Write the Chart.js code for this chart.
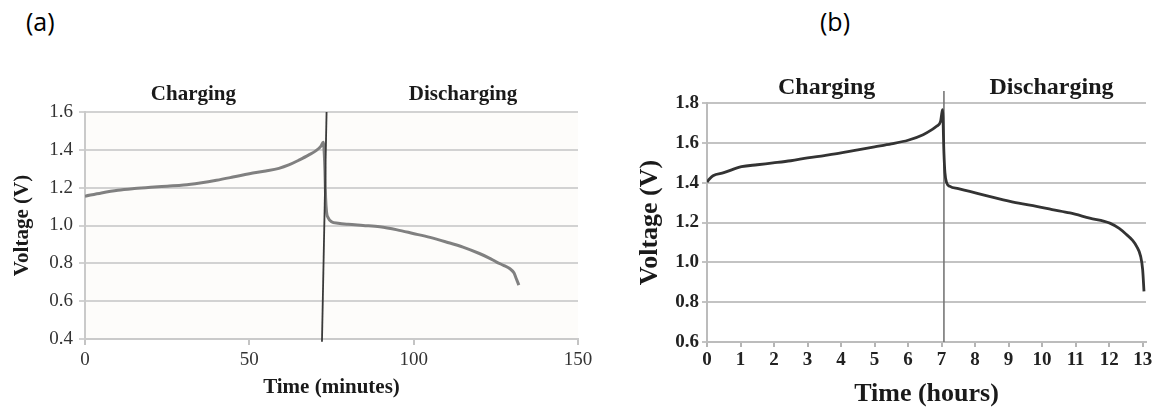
<!DOCTYPE html>
<html>
<head>
<meta charset="utf-8">
<script src="https://cdn.jsdelivr.net/npm/chart.js@4/dist/chart.umd.min.js"></script>
<style>
  body { margin: 0; background: #fff; width: 1156px; height: 411px; position: relative; overflow: hidden; }
  canvas { position: absolute; top: 0; }
  #chartA { left: 0; }
  #chartB { left: 600px; }
  .tag { position: absolute; top: 9px; font-family: "Open Sans", sans-serif; font-size: 25px; line-height: 1; color: #000; }
</style>
</head>
<body>
<div class="tag" style="left:26px">(a)</div>
<div class="tag" style="left:820px">(b)</div>
<canvas id="chartA" width="600" height="411"></canvas>
<canvas id="chartB" width="556" height="411"></canvas>
<script>
// Panel (a): time in minutes, voltage in volts
const timeA = [0, 5, 10, 15, 20, 25, 30, 35, 40, 45, 50, 55, 59, 62, 65, 68, 70.4, 71.8, 72.5,
  72.8, 73.0, 73.2, 73.5, 74.0, 75.0, 77, 80, 84.6, 89.7, 95, 99.8, 105, 109.9, 115, 120,
  123, 125.1, 127.5, 129.2, 130.5, 131.2, 132];
const voltageA = [1.155, 1.172, 1.186, 1.195, 1.202, 1.208, 1.214, 1.225, 1.239, 1.256, 1.274, 1.288, 1.302, 1.32, 1.345, 1.372, 1.397, 1.42, 1.44,
  1.38, 1.29, 1.15, 1.07, 1.04, 1.02, 1.012, 1.006, 1.0, 0.993, 0.977, 0.958, 0.937, 0.913, 0.886, 0.852,
  0.828, 0.808, 0.788, 0.773, 0.75, 0.72, 0.685];
const switchTimeA = [72.1, 73.5];
const switchVoltA = [0.386, 1.6];
const xTicksA = [0, 50, 100, 150];
const yTicksA = [0.4, 0.6, 0.8, 1.0, 1.2, 1.4, 1.6];
const phaseXA = [33, 115];

// Panel (b): time in hours, voltage in volts
const timeB = [0, 0.08, 0.18, 0.5, 1.03, 1.5, 1.97, 2.5, 3.0, 3.5, 4.0, 4.5, 5.0, 5.5, 6.0, 6.45, 6.7, 6.85, 6.97, 7.0, 7.03,
  7.07, 7.1, 7.15, 7.25, 7.5, 7.84, 8.3, 8.84, 9.3, 9.83, 10.3, 10.83, 11.42, 12.02, 12.3, 12.52, 12.7, 12.82, 12.94, 13.0, 13.04];
const voltageB = [1.403, 1.42, 1.435, 1.45, 1.48, 1.49, 1.499, 1.51, 1.524, 1.536, 1.549, 1.565, 1.58, 1.595, 1.613, 1.641, 1.665, 1.683, 1.708, 1.74, 1.766,
  1.55, 1.45, 1.40, 1.381, 1.37, 1.356, 1.336, 1.314, 1.297, 1.281, 1.265, 1.248, 1.222, 1.197, 1.17, 1.139, 1.11, 1.08, 1.03, 0.963, 0.854];
const switchTimeB = [7.07, 7.07];
const switchVoltB = [0.6, 1.86];
const xTicksB = [0, 1, 2, 3, 4, 5, 6, 7, 8, 9, 10, 11, 12, 13];
const yTicksB = [0.6, 0.8, 1.0, 1.2, 1.4, 1.6, 1.8];
const phaseXB = [3.57, 10.28];

const phaseLabels = ['Charging', 'Discharging'];

const SERIF = '"Liberation Serif", "Times New Roman", serif';

const toPoints = (xs, ys) => xs.map((x, i) => ({ x: x, y: ys[i] }));

// fills plot area and writes the Charging / Discharging headers
const panelPlugin = {
  id: 'panel',
  beforeDraw(chart, args, opts) {
    const a = chart.chartArea;
    if (opts.background) {
      chart.ctx.save();
      chart.ctx.fillStyle = opts.background;
      chart.ctx.fillRect(a.left, a.top, a.right - a.left, a.bottom - a.top);
      chart.ctx.restore();
    }
  },
  afterDraw(chart, args, opts) {
    const ctx = chart.ctx;
    const xs = chart.scales.x;
    ctx.save();
    ctx.font = 'bold ' + opts.size + 'px ' + SERIF;
    ctx.fillStyle = '#1a1a1a';
    ctx.textAlign = 'center';
    ctx.textBaseline = 'middle';
    phaseLabels.forEach((t, i) => {
      ctx.fillText(t, xs.getPixelForValue(opts.xs[i]), chart.chartArea.top - opts.lift);
    });
    ctx.restore();
  }
};

// Chart A
new Chart(document.getElementById('chartA'), {
  type: 'line',
  data: {
    datasets: [
      {
        data: toPoints(timeA, voltageA),
        borderColor: '#808080',
        borderWidth: 3,
        pointRadius: 0,
        cubicInterpolationMode: 'monotone',
        order: 2
      },
      {
        data: toPoints(switchTimeA, switchVoltA),
        borderColor: '#3a3a3a',
        borderWidth: 1.8,
        pointRadius: 0,
        clip: false,
        order: 1
      }
    ]
  },
  options: {
    responsive: false,
    animation: false,
    layout: { padding: { top: 112, right: 22, left: 0, bottom: 0 } },
    plugins: {
      legend: { display: false },
      tooltip: { enabled: false },
      panel: { background: '#fdfcfa', xs: phaseXA, lift: 17, size: 21 }
    },
    scales: {
      x: {
        type: 'linear',
        min: 0,
        max: 150,
        afterBuildTicks: axis => { axis.ticks = xTicksA.map(v => ({ value: v })); },
        afterFit: s => { s.height = 72; s.paddingLeft = 0; s.paddingRight = 0; },
        grid: { drawOnChartArea: false, tickLength: 6, color: '#c4c4c4', lineWidth: 2 },
        border: { color: '#cacaca', width: 2 },
        ticks: { font: { family: SERIF, size: 19 }, color: '#333', padding: 4, maxRotation: 0 },
        title: {
          display: true,
          text: 'Time (minutes)',
          font: { family: SERIF, size: 21, weight: 'bold', lineHeight: 1 },
          color: '#1a1a1a',
          padding: { top: 0, bottom: 12.5 }
        }
      },
      y: {
        min: 0.4,
        max: 1.6,
        afterBuildTicks: axis => { axis.ticks = yTicksA.map(v => ({ value: v })); },
        afterFit: s => { s.width = 85; },
        grid: { color: '#d2d2d2', lineWidth: 2, tickLength: 6 },
        border: { color: '#cacaca', width: 2 },
        ticks: { font: { family: SERIF, size: 19 }, color: '#333', padding: 6, callback: v => v.toFixed(1) },
        title: {
          display: true,
          text: 'Voltage (V)',
          font: { family: SERIF, size: 21, weight: 'bold', lineHeight: 1 },
          color: '#1a1a1a',
          padding: { top: 12.5, bottom: 0 }
        }
      }
    }
  },
  plugins: [panelPlugin]
});

// Chart B
new Chart(document.getElementById('chartB'), {
  type: 'line',
  data: {
    datasets: [
      {
        data: toPoints(timeB, voltageB),
        borderColor: '#333333',
        borderWidth: 2.8,
        pointRadius: 0,
        cubicInterpolationMode: 'monotone',
        order: 1
      },
      {
        data: toPoints(switchTimeB, switchVoltB),
        borderColor: '#777777',
        borderWidth: 1.6,
        pointRadius: 0,
        clip: false,
        order: 2
      }
    ]
  },
  options: {
    responsive: false,
    animation: false,
    layout: { padding: { top: 103, right: 10, left: 0, bottom: 0 } },
    plugins: {
      legend: { display: false },
      tooltip: { enabled: false },
      panel: { background: null, xs: phaseXB, lift: 15, size: 24 }
    },
    scales: {
      x: {
        type: 'linear',
        min: 0,
        max: 13.1,
        afterBuildTicks: axis => { axis.ticks = xTicksB.map(v => ({ value: v })); },
        afterFit: s => { s.height = 69; s.paddingLeft = 0; s.paddingRight = 0; },
        grid: { drawOnChartArea: false, tickLength: 5, color: '#b5b5b5', lineWidth: 2 },
        border: { color: '#bcbcbc', width: 2 },
        ticks: { font: { family: SERIF, size: 19, weight: 'bold' }, color: '#222', padding: 2, maxRotation: 0 },
        title: {
          display: true,
          text: 'Time (hours)',
          font: { family: SERIF, size: 26, weight: 'bold', lineHeight: 1 },
          color: '#1a1a1a',
          padding: { top: 0, bottom: 4 }
        }
      },
      y: {
        min: 0.6,
        max: 1.8,
        afterBuildTicks: axis => { axis.ticks = yTicksB.map(v => ({ value: v })); },
        afterFit: s => { s.width = 107; },
        grid: { color: '#c3c3c3', lineWidth: 2, tickLength: 5 },
        border: { color: '#bcbcbc', width: 2 },
        ticks: { font: { family: SERIF, size: 19, weight: 'bold' }, color: '#222', padding: 3, callback: v => v.toFixed(1) },
        title: {
          display: true,
          text: 'Voltage (V)',
          font: { family: SERIF, size: 26, weight: 'bold', lineHeight: 1 },
          color: '#1a1a1a',
          padding: { top: 37, bottom: 0 }
        }
      }
    }
  },
  plugins: [panelPlugin]
});
</script>
</body>
</html>
